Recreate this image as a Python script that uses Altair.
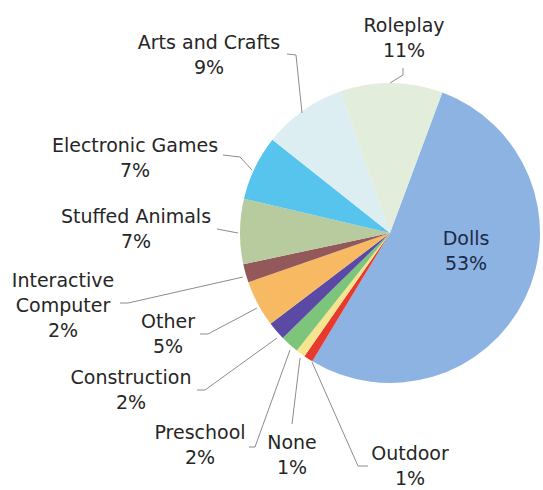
import math
import altair as alt
import pandas as pd

# ---- data ----
categories = ["Dolls", "Outdoor", "None", "Preschool", "Construction", "Other",
              "Interactive Computer", "Stuffed Animals", "Electronic Games",
              "Arts and Crafts", "Roleplay"]
values = [53, 1, 1, 2, 2, 5, 2, 7, 7, 9, 11]
display_names = ["Dolls", "Outdoor", "None", "Preschool", "Construction", "Other",
                 "Interactive\nComputer", "Stuffed Animals", "Electronic Games",
                 "Arts and Crafts", "Roleplay"]

# ---- styles / layout ----
colors = ["#8DB3E2", "#E8392E", "#F6E48F", "#7CC57A", "#5A4AA5", "#F8B963",
          "#93595A", "#B7CB9F", "#56C4EC", "#DDEEF3", "#E2EDDC"]
CX, CY, R = 390, 233, 150
START = math.radians(20.4)
label_pos = {
    "Dolls": (466, 245), "Outdoor": (410, 460), "None": (292, 449),
    "Preschool": (200, 439), "Construction": (131, 384), "Other": (168, 328),
    "Interactive Computer": (63, 287), "Stuffed Animals": (136, 223),
    "Electronic Games": (135, 152), "Arts and Crafts": (209, 49),
    "Roleplay": (404, 32),
}
leaders = {
    "Outdoor": [(368, 466), (358, 466), (312, 362)],
    "None": [(292, 424), (300, 358)],
    "Preschool": [(249, 447), (255, 447), (290, 350)],
    "Construction": [(197, 390), (205, 390), (277, 338)],
    "Other": [(200, 334), (208, 334), (257, 308)],
    "Interactive Computer": [(120, 303), (128, 303), (243, 277)],
    "Stuffed Animals": [(217, 229), (238, 233)],
    "Electronic Games": [(223, 155), (240, 157), (252, 170)],
    "Arts and Crafts": [(287, 54), (296, 55), (302, 113)],
    "Roleplay": [(403, 68), (403, 75), (390, 83)],
}

df = pd.DataFrame({
    "category": categories,
    "value": values,
    "order": list(range(len(categories))),
})
df["label"] = [f"{n}\n{v}%" for n, v in zip(display_names, values)]
df["lx"] = [label_pos[c][0] for c in categories]
df["ly"] = [label_pos[c][1] for c in categories]
df["textcolor"] = ["dolls" if c == "Dolls" else "other" for c in categories]

lead_rows = []
for c, pts in leaders.items():
    for i, (x, y) in enumerate(pts):
        lead_rows.append({"category": c, "i": i, "x": x, "y": y})
lead_df = pd.DataFrame(lead_rows)

shadow = alt.Chart(pd.DataFrame({"v": [1]})).mark_arc(
    outerRadius=R + 1, color="#C8C8C8", opacity=0.6
).encode(theta=alt.Theta("v:Q"), x=alt.value(CX + 2), y=alt.value(CY + 2))

pie = alt.Chart(df).mark_arc(outerRadius=R).encode(
    theta=alt.Theta("value:Q", stack=True,
                    scale=alt.Scale(range=[START, START + 2 * math.pi])),
    order=alt.Order("order:Q"),
    color=alt.Color("category:N", scale=alt.Scale(domain=categories, range=colors),
                    legend=None),
    x=alt.value(CX), y=alt.value(CY),
)

lines = alt.Chart(lead_df).mark_line(color="#8C8C8C", strokeWidth=1).encode(
    x=alt.X("x:Q", scale=None),
    y=alt.Y("y:Q", scale=None),
    detail="category:N",
    order="i:Q",
)

labels = alt.Chart(df).mark_text(
    font="DejaVu Sans", fontSize=19, lineBreak="\n", lineHeight=25,
    align="center", baseline="alphabetic",
).encode(
    x=alt.X("lx:Q", scale=None),
    y=alt.Y("ly:Q", scale=None),
    text="label:N",
    color=alt.Color("textcolor:N",
                    scale=alt.Scale(domain=["dolls", "other"], range=["#1B2A48", "#262626"]),
                    legend=None),
)

chart = alt.layer(shadow, pie, lines, labels).properties(
    width=543, height=490, autosize=alt.AutoSizeParams(type="none"), padding=0
).configure_view(stroke=None).resolve_scale(color="independent")

chart.save("out.html", embed_options={"renderer": "svg", "actions": False})
